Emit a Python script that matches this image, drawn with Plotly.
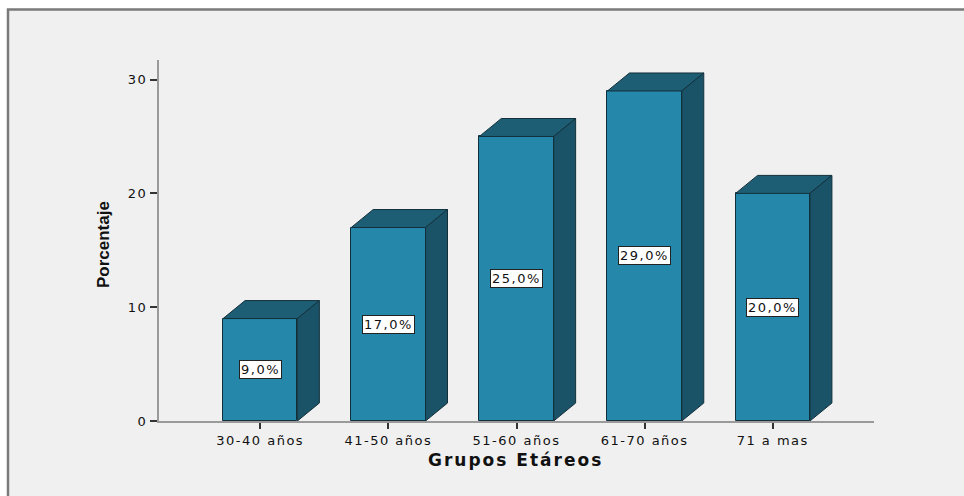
import plotly.graph_objects as go

# ---- data ----
categories = ["30-40 años", "41-50 años", "51-60 años", "61-70 años", "71 a mas"]
percentages = [9.0, 17.0, 25.0, 29.0, 20.0]
y_ticks = [0, 10, 20, 30]
y_title = "Porcentaje"
x_title = "Grupos Etáreos"

# ---- style ----
FRONT = "#2588aa"
TOP = "#1d5e75"
SIDE = "#1a5267"
EDGE = "#12303b"
BAR_W = 0.58
DX = 0.1715          # depth offset in category units
DY = 1.58            # depth offset in value units

def spaced(t, px=1.5):
    return f'<span style="letter-spacing:{px}px">{t}</span>'

xs = list(range(len(categories)))

fig = go.Figure()

# front faces
fig.add_trace(go.Bar(
    x=xs, y=percentages, width=BAR_W,
    marker=dict(color=FRONT, line=dict(color=EDGE, width=1)),
    hoverinfo="skip", showlegend=False,
))

# top and side faces
for x, v in zip(xs, percentages):
    l, r = x - BAR_W / 2, x + BAR_W / 2
    fig.add_trace(go.Scatter(
        x=[l, l + DX, r + DX, r, l], y=[v, v + DY, v + DY, v, v],
        mode="lines", fill="toself", fillcolor=TOP,
        line=dict(color=EDGE, width=1), hoverinfo="skip", showlegend=False,
    ))
    fig.add_trace(go.Scatter(
        x=[r, r + DX, r + DX, r, r], y=[0, DY, v + DY, v, 0],
        mode="lines", fill="toself", fillcolor=SIDE,
        line=dict(color=EDGE, width=1), hoverinfo="skip", showlegend=False,
    ))

# value labels
for x, v in zip(xs, percentages):
    fig.add_annotation(
        x=x, y=v / 2, xref="x", yref="y",
        text=spaced(f"{v:.1f}%".replace(".", ",")),
        showarrow=False, bgcolor="white", bordercolor="#222222",
        borderwidth=1, borderpad=1,
        font=dict(family="DejaVu Sans", size=13, color="#111111"),
    )

# axis titles
fig.add_annotation(
    x=-0.0783, y=0.4875, xref="paper", yref="paper", textangle=-90,
    xanchor="center", yanchor="middle",
    text=f"<b>{y_title}</b>", showarrow=False,
    font=dict(family="Liberation Sans", size=17, color="#111111"),
)
fig.add_annotation(
    x=0.4993, y=-0.108, xref="paper", yref="paper",
    xanchor="center", yanchor="middle",
    text=f"<b>{spaced(x_title, 2)}</b>", showarrow=False,
    font=dict(family="DejaVu Sans", size=17, color="#111111"),
)

# background panel with border on top/left
fig.add_shape(
    type="rect", xref="paper", yref="paper",
    x0=-0.2112, x1=1.3, y0=-0.4, y1=1.1399,
    fillcolor="#f0f0f0", line=dict(color="#7a7a7a", width=2.5),
    layer="below",
)

fig.update_layout(
    width=964, height=496,
    margin=dict(l=159, r=90, t=60, b=75),
    paper_bgcolor="white", plot_bgcolor="rgba(0,0,0,0)",
    bargap=0, showlegend=False,
    xaxis=dict(
        range=[-0.79, 4.79], tickmode="array", tickvals=xs,
        ticktext=[spaced(c) for c in categories],
        showgrid=False, zeroline=False,
        showline=True, linecolor="#9a9a9a", linewidth=2,
        ticks="outside", ticklen=6, tickwidth=1.5, tickcolor="#333333",
        tickfont=dict(family="DejaVu Sans", size=13, color="#111111"),
        fixedrange=True,
    ),
    yaxis=dict(
        range=[0, 31.72], tickmode="array", tickvals=y_ticks,
        ticktext=[spaced(str(t)) for t in y_ticks],
        showgrid=False, zeroline=False,
        showline=True, linecolor="#9a9a9a", linewidth=2,
        ticks="outside", ticklen=7, tickwidth=1.5, tickcolor="#333333",
        tickfont=dict(family="DejaVu Sans", size=13, color="#111111"),
        fixedrange=True,
    ),
)

fig.write_html("out.html")
